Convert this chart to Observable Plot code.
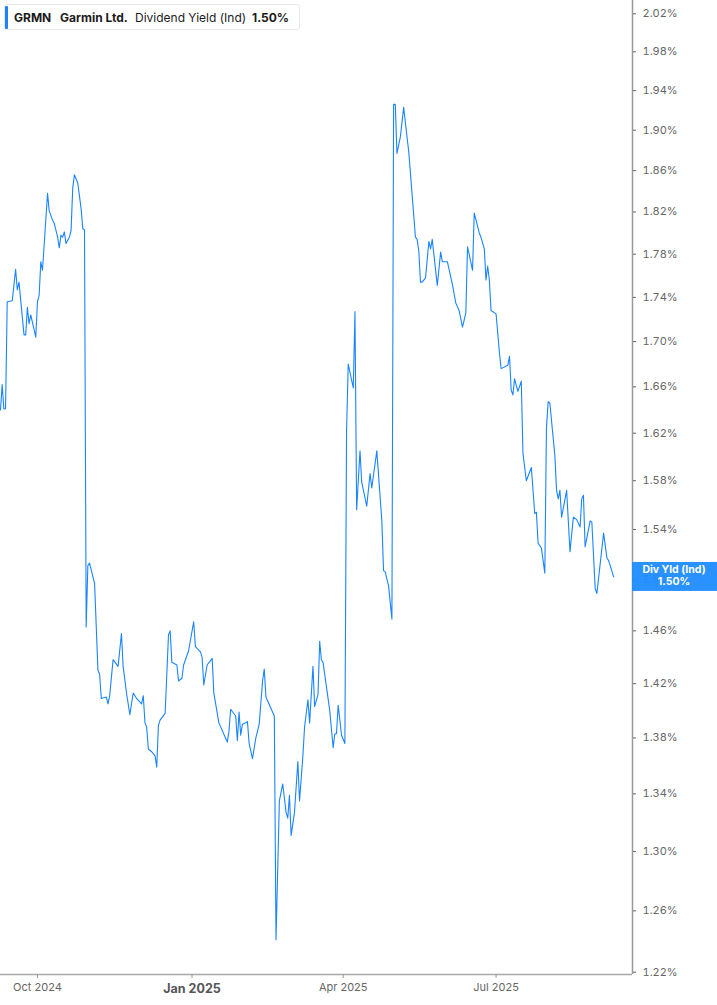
<!DOCTYPE html>
<html>
<head>
<meta charset="utf-8">
<script src="https://cdn.jsdelivr.net/npm/d3@7"></script>
<script src="https://cdn.jsdelivr.net/npm/@observablehq/plot@0.6"></script>
<style>
  html, body { margin: 0; padding: 0; background: #fff; }
  #wrap { position: relative; width: 717px; height: 1005px; font-family: Inter, "Noto Sans", sans-serif; }
  #legend { position: absolute; left: 4px; top: 4px; width: 296px; height: 26px; box-sizing: border-box;
            border: 1px solid #e8e8e8; border-radius: 3px; background: #fff; }
  #legend .bar { position: absolute; left: 0; top: 1px; width: 3px; height: 23px; background: #1a84ff; border-radius: 1px; }
  #legend span { position: absolute; top: 5px; font-size: 12px; line-height: 15px; color: #1b1b1b; white-space: nowrap; }
  #legend .b { font-weight: 700; }
</style>
</head>
<body>
<div id="wrap">
  <div id="chart"></div>
  <div id="legend">
    <div class="bar"></div>
    <span class="b" style="left:9px">GRMN</span>
    <span class="b" style="left:55px">Garmin Ltd.</span>
    <span style="left:130px">Dividend Yield (Ind)</span>
    <span class="b" style="left:247px">1.50%</span>
  </div>
</div>
<script>
const dates = [
"2024-09-09","2024-09-10","2024-09-11","2024-09-12","2024-09-13","2024-09-16","2024-09-18","2024-09-19","2024-09-20","2024-09-23",
"2024-09-24","2024-09-25","2024-09-26","2024-09-27","2024-09-30","2024-10-01","2024-10-02","2024-10-03","2024-10-04","2024-10-07",
"2024-10-08","2024-10-10","2024-10-11","2024-10-13","2024-10-14","2024-10-15","2024-10-16","2024-10-17","2024-10-18","2024-10-20",
"2024-10-21","2024-10-22","2024-10-23","2024-10-25","2024-10-27","2024-10-28","2024-10-29","2024-10-30","2024-10-31","2024-11-01",
"2024-11-04","2024-11-06","2024-11-07","2024-11-08","2024-11-11","2024-11-12","2024-11-13","2024-11-15","2024-11-18","2024-11-20",
"2024-11-21","2024-11-23","2024-11-25","2024-11-27","2024-11-29","2024-12-02","2024-12-03","2024-12-04","2024-12-05","2024-12-06",
"2024-12-08","2024-12-10","2024-12-11","2024-12-12","2024-12-13","2024-12-16","2024-12-18","2024-12-19","2024-12-20","2024-12-23",
"2024-12-24","2024-12-26","2024-12-27","2024-12-30","2025-01-02","2025-01-03","2025-01-06","2025-01-07","2025-01-08","2025-01-10",
"2025-01-13","2025-01-14","2025-01-17","2025-01-22","2025-01-23","2025-01-24","2025-01-27","2025-01-28","2025-01-29","2025-01-30",
"2025-01-31","2025-02-02","2025-02-03","2025-02-04","2025-02-06","2025-02-08","2025-02-10","2025-02-12","2025-02-13","2025-02-14",
"2025-02-19","2025-02-20","2025-02-22","2025-02-24","2025-02-26","2025-02-27","2025-02-28","2025-03-01","2025-03-03","2025-03-05",
"2025-03-06","2025-03-08","2025-03-09","2025-03-11","2025-03-12","2025-03-14","2025-03-15","2025-03-17","2025-03-18","2025-03-19",
"2025-03-20","2025-03-24","2025-03-26","2025-03-27","2025-03-28","2025-03-29","2025-03-31","2025-04-02","2025-04-03","2025-04-04",
"2025-04-07","2025-04-08","2025-04-09","2025-04-11","2025-04-12","2025-04-15","2025-04-17","2025-04-18","2025-04-21","2025-04-24",
"2025-04-25","2025-04-26","2025-04-28","2025-04-30","2025-05-01","2025-05-02","2025-05-03","2025-05-05","2025-05-07","2025-05-09",
"2025-05-10","2025-05-14","2025-05-15","2025-05-16","2025-05-17","2025-05-18","2025-05-20","2025-05-22","2025-05-23","2025-05-24",
"2025-05-27","2025-05-29","2025-05-30","2025-06-02","2025-06-04","2025-06-05","2025-06-07","2025-06-09","2025-06-11","2025-06-13",
"2025-06-14","2025-06-17","2025-06-18","2025-06-21","2025-06-22","2025-06-24","2025-06-25","2025-06-26","2025-06-27","2025-06-28",
"2025-07-01","2025-07-03","2025-07-04","2025-07-08","2025-07-09","2025-07-10","2025-07-11","2025-07-12","2025-07-14","2025-07-16",
"2025-07-17","2025-07-19","2025-07-22","2025-07-24","2025-07-25","2025-07-26","2025-07-28","2025-07-30","2025-07-31","2025-08-01",
"2025-08-02","2025-08-05","2025-08-06","2025-08-07","2025-08-08","2025-08-09","2025-08-12","2025-08-14","2025-08-16","2025-08-18",
"2025-08-20","2025-08-21","2025-08-22","2025-08-23","2025-08-26","2025-08-27","2025-08-29","2025-08-30","2025-09-03","2025-09-05",
"2025-09-06","2025-09-09"
];
const yields = [
1.640,1.662,1.641,1.641,1.736,1.737,1.766,1.747,1.754,1.706,
1.706,1.731,1.716,1.724,1.704,1.736,1.742,1.773,1.765,1.838,
1.821,1.812,1.809,1.796,1.786,1.798,1.796,1.801,1.790,1.796,
1.802,1.843,1.856,1.848,1.823,1.804,1.803,1.463,1.511,1.513,
1.497,1.430,1.427,1.409,1.410,1.405,1.411,1.438,1.433,1.458,
1.433,1.413,1.397,1.413,1.409,1.405,1.411,1.391,1.388,1.372,
1.370,1.367,1.359,1.389,1.393,1.398,1.457,1.460,1.436,1.434,
1.422,1.424,1.434,1.445,1.467,1.448,1.444,1.440,1.419,1.434,
1.439,1.413,1.391,1.377,1.385,1.401,1.396,1.378,1.399,1.382,
1.390,1.391,1.392,1.376,1.365,1.380,1.390,1.422,1.431,1.410,
1.396,1.241,1.335,1.347,1.327,1.323,1.339,1.311,1.327,1.363,
1.335,1.367,1.388,1.408,1.391,1.433,1.403,1.412,1.452,1.438,
1.436,1.400,1.373,1.383,1.383,1.404,1.382,1.376,1.622,1.680,
1.659,1.727,1.556,1.605,1.579,1.559,1.586,1.574,1.605,1.547,
1.507,1.506,1.495,1.469,1.926,1.926,1.877,1.893,1.923,1.893,
1.879,1.796,1.794,1.783,1.754,1.754,1.758,1.792,1.785,1.794,
1.751,1.782,1.773,1.773,1.759,1.752,1.735,1.728,1.713,1.726,
1.787,1.765,1.819,1.800,1.796,1.785,1.756,1.769,1.756,1.728,
1.725,1.690,1.676,1.679,1.687,1.657,1.653,1.667,1.656,1.665,
1.603,1.580,1.591,1.553,1.554,1.529,1.525,1.505,1.625,1.647,
1.646,1.601,1.572,1.565,1.572,1.550,1.572,1.522,1.550,1.548,
1.542,1.565,1.568,1.526,1.547,1.546,1.493,1.489,1.537,1.517,
1.515,1.502
];
const yTicks = [1.22,1.26,1.30,1.34,1.38,1.42,1.46,1.50,1.54,1.58,1.62,1.66,1.70,1.74,1.78,1.82,1.86,1.90,1.94,1.98,2.02];
const xTickDates = ["2024-10-01","2025-01-01","2025-04-01","2025-07-01"];
const xTickLabels = ["Oct 2024","Jan 2025","Apr 2025","Jul 2025"];
const xTickBold = [false,true,false,false];
const xDomain = ["2024-09-09","2025-09-20T05:00"];
const yDomain = [1.2185, 2.0342];
const lastLabel = ["Div Yld (Ind)", "1.50%"];

const data = dates.map((d, i) => ({date: new Date(d), value: yields[i]}));
const ticksX = xTickDates.map((d, i) => ({date: new Date(d), label: xTickLabels[i], bold: xTickBold[i]}));
const xEnd = new Date(xDomain[1]);

const blue = "#1a84ff";
const chart = Plot.plot({
  width: 717,
  height: 1005,
  marginLeft: 0,
  marginRight: 85,
  marginTop: 0,
  marginBottom: 31,
  style: {fontFamily: "Inter, 'Noto Sans', sans-serif", background: "#fff", overflow: "visible"},
  x: {type: "utc", domain: xDomain.map(d => new Date(d))},
  y: {type: "log", domain: yDomain},
  marks: [
    Plot.ruleY([yDomain[0]], {stroke: "#a8a8a8", strokeWidth: 1.5}),
    Plot.ruleX([xEnd], {stroke: "#999", strokeWidth: 1.5}),
    Plot.axisY(yTicks, {anchor: "right", tickSize: 3, tickPadding: 7, stroke: "#666",
      tickFormat: d => d.toFixed(2) + "%", fontSize: 11, color: "#666", label: null}),
    Plot.axisX(ticksX.map(d => d.date), {anchor: "bottom", tickSize: 4, stroke: "#999", tickFormat: () => "", label: null}),
    Plot.text(ticksX.filter(d => !d.bold), {x: "date", text: "label", frameAnchor: "bottom", dy: 16,
      fontSize: 11, fill: "#666"}),
    Plot.text(ticksX.filter(d => d.bold), {x: "date", text: "label", frameAnchor: "bottom", dy: 18,
      fontSize: 12.5, fontWeight: "bold", fill: "#555"}),
    Plot.line(data, {x: "date", y: "value", stroke: blue, strokeWidth: 1.1})
  ]
});
document.getElementById("chart").appendChild(chart);

// end-value label box in the right margin, positioned by the y scale
const ys = chart.scale("y");
const yLast = ys.apply(yields[yields.length - 1]);
const svg = d3.select(chart);
const g = svg.append("g");
g.append("rect").attr("x", 632).attr("y", yLast - 14.5).attr("width", 85).attr("height", 29)
  .attr("fill", "#1f8cff").attr("fill-opacity", 0.95);
g.append("text").attr("x", 674).attr("y", yLast - 6.5).attr("text-anchor", "middle")
  .attr("dominant-baseline", "middle").attr("fill", "#fff").attr("font-size", 10.5).attr("font-weight", 700)
  .text(lastLabel[0]);
g.append("text").attr("x", 674).attr("y", yLast + 5.5).attr("text-anchor", "middle")
  .attr("dominant-baseline", "middle").attr("fill", "#fff").attr("font-size", 10.5).attr("font-weight", 700)
  .text(lastLabel[1]);
</script>
</body>
</html>
